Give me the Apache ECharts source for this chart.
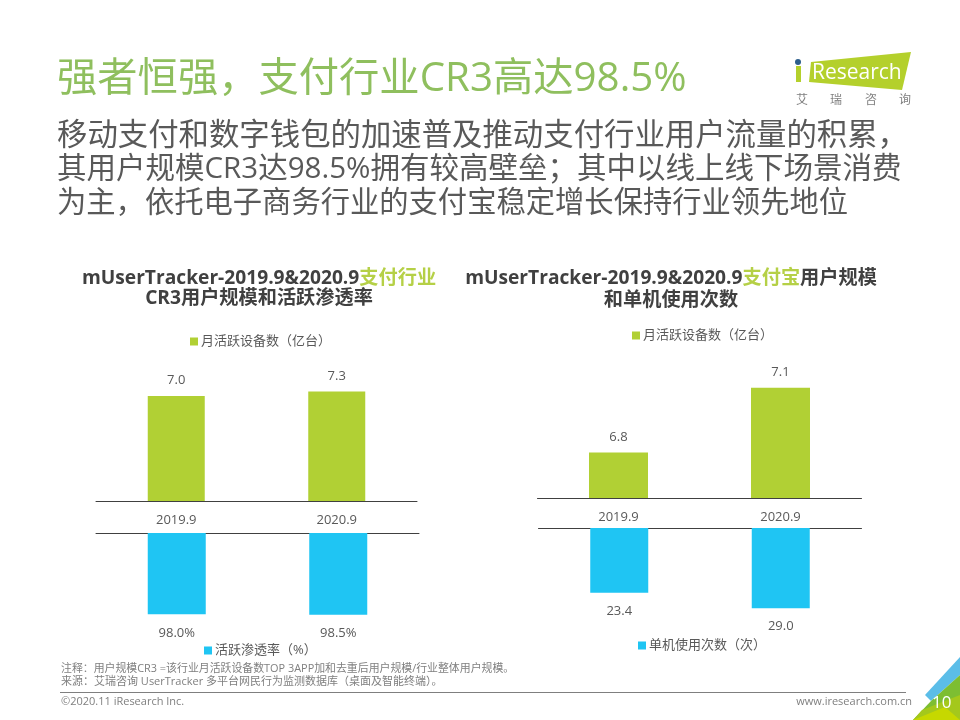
<!DOCTYPE html>
<html>
<head>
<meta charset="utf-8">
<style>html,body{margin:0;padding:0;background:#fff}#main{width:960px;height:720px}</style>
<script src="https://cdn.jsdelivr.net/npm/echarts@6/dist/echarts.min.js"></script>
</head>
<body>
<div id="main"></div>
<script>
// 图表数据
const categories = ['2019.9', '2020.9']
const cr3Devices = [7.0, 7.3]
const cr3Rate = [98.0, 98.5]
const alipayDevices = [6.8, 7.1]
const alipayTimes = [23.4, 29.0]

const deviceName = '月活跃设备数（亿台）'
const rateName = '活跃渗透率（%）'
const timesName = '单机使用次数（次）'

const bodyLines = [
  '移动支付和数字钱包的加速普及推动支付行业用户流量的积累，',
  '其用户规模CR3达98.5%拥有较高壁垒；其中以线上线下场景消费',
  '为主，依托电子商务行业的支付宝稳定增长保持行业领先地位'
]

const FONT = '"Open Sans","Noto Sans CJK SC",sans-serif'
const GREEN = '#B1D034'
const BLUE = '#1FC5F3'
const TEXT = '#595959'
const LINE = '#404040'

const txt = (x, y, text, size, color, extra) => ({
  type: 'text',
  x: x,
  y: y,
  silent: true,
  style: Object.assign({
    text: text,
    fontFamily: FONT,
    fontSize: size,
    fill: color,
    textVerticalAlign: 'middle'
  }, extra || {})
})

const poly = (points, color) => ({
  type: 'polygon',
  silent: true,
  shape: { points: points },
  style: { fill: color }
})

const chartTitle = (center, top, lineHeight, text) => ({
  left: center,
  top: top,
  textAlign: 'center',
  text: text,
  textStyle: {
    lineHeight: lineHeight,
    rich: {
      d: { fontFamily: FONT, fontSize: 19.2, fontWeight: 'bold', color: '#404040', lineHeight: lineHeight },
      g: { fontFamily: FONT, fontSize: 19.2, fontWeight: 'bold', color: '#B5D046', lineHeight: lineHeight }
    }
  }
})

const legendOf = (name, left, top) => ({
  data: [name],
  left: left,
  top: top,
  padding: 0,
  itemWidth: 8,
  itemHeight: 8,
  itemGap: 0,
  icon: 'rect',
  selectedMode: false,
  textStyle: { fontFamily: FONT, fontSize: 13, color: TEXT, padding: [0, 0, 0, -2] }
})

const xAxisOf = (gridIndex, showLabel) => ({
  type: 'category',
  gridIndex: gridIndex,
  data: categories,
  axisTick: { show: false },
  axisLine: { lineStyle: { color: LINE, width: 1 } },
  axisLabel: {
    show: showLabel,
    margin: 13,
    fontFamily: FONT,
    fontSize: 13,
    color: TEXT
  }
})

const yAxisOf = (gridIndex, min, max, inverse) => ({
  type: 'value',
  gridIndex: gridIndex,
  min: min,
  max: max,
  inverse: inverse,
  show: false,
  splitLine: { show: false }
})

const barOf = (name, index, data, color, width, position, distance, fmt) => ({
  name: name,
  type: 'bar',
  xAxisIndex: index,
  yAxisIndex: index,
  data: data,
  barWidth: width,
  itemStyle: { color: color },
  label: {
    show: true,
    position: position,
    distance: distance,
    fontFamily: FONT,
    fontSize: 13,
    color: TEXT,
    formatter: fmt
  }
})

const option = {
  backgroundColor: '#ffffff',
  animation: false,
  title: [
    chartTitle(254, 264, 20, '{d|mUserTracker-2019.9&2020.9}{g|支付行业}\n{d|CR3用户规模和活跃渗透率}'),
    chartTitle(666, 263, 22, '{d|mUserTracker-2019.9&2020.9}{g|支付宝}{d|用户规模}\n{d|和单机使用次数}')
  ],
  legend: [
    legendOf(deviceName, 190, 335),
    legendOf(rateName, 204, 644),
    legendOf(deviceName, 632, 329),
    legendOf(timesName, 638, 639)
  ],
  grid: [
    { left: 96, top: 351, width: 321, height: 150 },
    { left: 96, top: 533, width: 323, height: 83 },
    { left: 537.5, top: 366, width: 324, height: 132 },
    { left: 538.5, top: 528, width: 323, height: 83 }
  ],
  xAxis: [
    xAxisOf(0, true),
    Object.assign(xAxisOf(1, false), { position: 'top' }),
    xAxisOf(2, true),
    Object.assign(xAxisOf(3, false), { position: 'top' })
  ],
  yAxis: [
    yAxisOf(0, 0, 10, false),
    yAxisOf(1, 0, 100, true),
    yAxisOf(2, 6.59, 7.2, false),
    yAxisOf(3, 0, 30, true)
  ],
  series: [
    barOf(deviceName, 0, cr3Devices, GREEN, 57, 'top', 9, p => p.value.toFixed(1)),
    barOf(rateName, 1, cr3Rate, BLUE, 58, 'bottom', 12, p => p.value.toFixed(1) + '%'),
    barOf(deviceName, 2, alipayDevices, GREEN, 59, 'top', 9, p => p.value.toFixed(1)),
    barOf(timesName, 3, alipayTimes, BLUE, 58, 'bottom', 12, p => p.value.toFixed(1))
  ],
  graphic: [
    // 标题
    txt(57, 80, '强者恒强，支付行业CR3高达98.5%', 40.3, '#8FBF5E'),
    txt(57, 136, bodyLines[0], 30.4, '#595959'),
    txt(57, 170, bodyLines[1], 29.5, '#595959'),
    txt(57, 204, bodyLines[2], 29.3, '#595959'),
    // logo
    poly([[811, 62], [911, 52], [902, 90], [809, 82]], '#B4D02C'),
    { type: 'rect', silent: true, shape: { x: 796, y: 66, width: 5, height: 16 }, style: { fill: '#B4D02C' } },
    { type: 'circle', silent: true, shape: { cx: 798, cy: 62, r: 3 }, style: { fill: '#2C5E8C' } },
    txt(812, 73, 'Research', 21, '#ffffff'),
    txt(796, 101, '艾', 12, '#7F7F7F'),
    txt(830, 101, '瑞', 12, '#7F7F7F'),
    txt(865, 101, '咨', 12, '#7F7F7F'),
    txt(899, 101, '询', 12, '#7F7F7F'),
    // 脚注
    txt(61, 669, '注释：用户规模CR3 =该行业月活跃设备数TOP 3APP加和去重后用户规模/行业整体用户规模。', 10.9, '#7F7F7F'),
    txt(61, 682, '来源：艾瑞咨询 UserTracker 多平台网民行为监测数据库（桌面及智能终端）。', 11, '#7F7F7F'),
    { type: 'line', silent: true, shape: { x1: 60, y1: 692.5, x2: 906, y2: 692.5 }, style: { stroke: '#7F7F7F', lineWidth: 1 } },
    txt(61, 702, '©2020.11 iResearch Inc.', 11, '#7F7F7F'),
    txt(912, 702, 'www.iresearch.com.cn', 11, '#7F7F7F', { textAlign: 'right' }),
    // 右下角
    poly([[925, 695], [960, 657], [960, 675], [931, 701]], '#5BBDE8'),
    poly([[931, 701], [960, 675], [960, 720], [913, 720]], '#7DBE32'),
    poly([[922, 710], [960, 695], [960, 720], [913, 720]], '#A4C81C'),
    poly([[913, 720], [945, 707], [960, 720]], '#C6D800'),
    txt(932, 703, '10', 17, '#ffffff')
  ]
}

const chart = echarts.init(document.getElementById('main'))
chart.setOption(option)
</script>
</body>
</html>
